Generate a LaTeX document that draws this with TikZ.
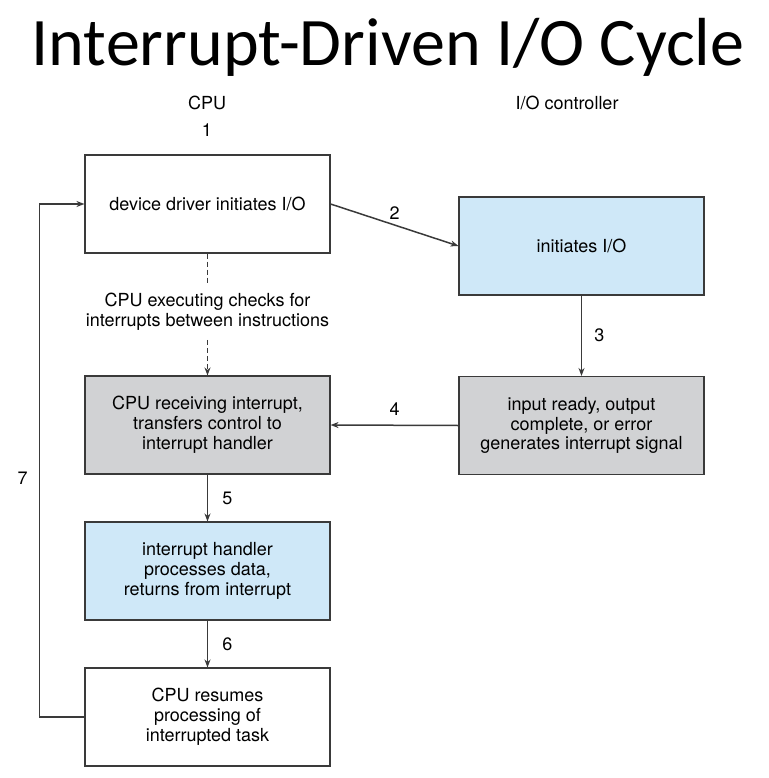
\documentclass[tikz,border=0pt]{standalone}
\usepackage{fontspec}
\setmainfont{TeX Gyre Heros}
\newfontfamily\titlefont{Carlito}
\usetikzlibrary{arrows.meta, positioning}

\definecolor{ioblue}{HTML}{CFE8F8}
\definecolor{iogray}{HTML}{D1D2D4}
\definecolor{ioline}{HTML}{3A3A3A}

\begin{document}
\begin{tikzpicture}[
				x=1pt, y=-1pt,
				>={Stealth[length=8pt,width=6pt]},
				box/.style={draw=ioline, line width=1.1pt, minimum width=245pt, minimum height=98pt,
					inner sep=0pt, align=center, font=\fontsize{18}{19.8}\selectfont},
				bluebox/.style={box, fill=ioblue},
				graybox/.style={box, fill=iogray},
				lbl/.style={font=\fontsize{18}{19.8}\selectfont, inner sep=0pt},
				arrow/.style={->, draw=ioline, line width=1.5pt}
				]
				
				% Rahmen
				\useasboundingbox (0,0) rectangle (768,778);
				
				% Titel
				\node[anchor=base, font=\titlefont\fontsize{68}{72}\selectfont, inner sep=0pt] (title) at (388,66) {Interrupt-Driven I/O Cycle};
				
				% Spalten
				\node[lbl] (cpu) at (207,103) {CPU};
				\node[lbl] (one) at (207,130) {1};
				\node[lbl] (ctrl) at (567,103) {I/O controller};
				
				% Kästen
				\node[box] (driver)  at (207.5,204) {device driver initiates I/O};
				\node[bluebox] (initio) at (581.5,246) {initiates I/O};
				\node[graybox] (signal) at (581.5,425.5) {input ready, output\\complete, or error\\generates interrupt signal};
				\node[graybox] (receive) at (207.5,425) {CPU receiving interrupt,\\transfers control to\\interrupt handler};
				\node[bluebox] (handler) at (207.5,571) {interrupt handler\\processes data,\\returns from interrupt};
				\node[box] (resume) at (207.5,717) {CPU resumes\\processing of\\interrupted task};
				\node[lbl, inner ysep=9pt, align=center] (check) at (207.5,312) {CPU executing checks for\\interrupts between instructions};
				
				% Pfeile
				\draw[arrow] (driver.east) -- node[lbl, midway, above=5pt] {2} (initio.west);
				\draw[arrow] (initio.south) -- node[lbl, midway, right=12pt] {3} (signal.north);
				\draw[arrow] (signal.west) -- node[lbl, midway, above=9pt] {4} (receive.east);
				\draw[arrow] (receive.south) -- node[lbl, midway, right=14pt] {5} (handler.north);
				\draw[arrow] (handler.south) -- node[lbl, midway, right=14pt] {6} (resume.north);
				\draw[arrow] (resume.west) -- ++(-45,0) |- node[lbl, pos=0.233, left=11pt] {7} (driver.west);
				
				% gestrichelt
				\draw[draw=ioline, line width=1.5pt, dash pattern=on 5pt off 3pt] (driver.south) -- (check.north);
				\draw[arrow, dash pattern=on 5pt off 3pt] (check.south) -- (receive.north);
				
			\end{tikzpicture}
\end{document}
